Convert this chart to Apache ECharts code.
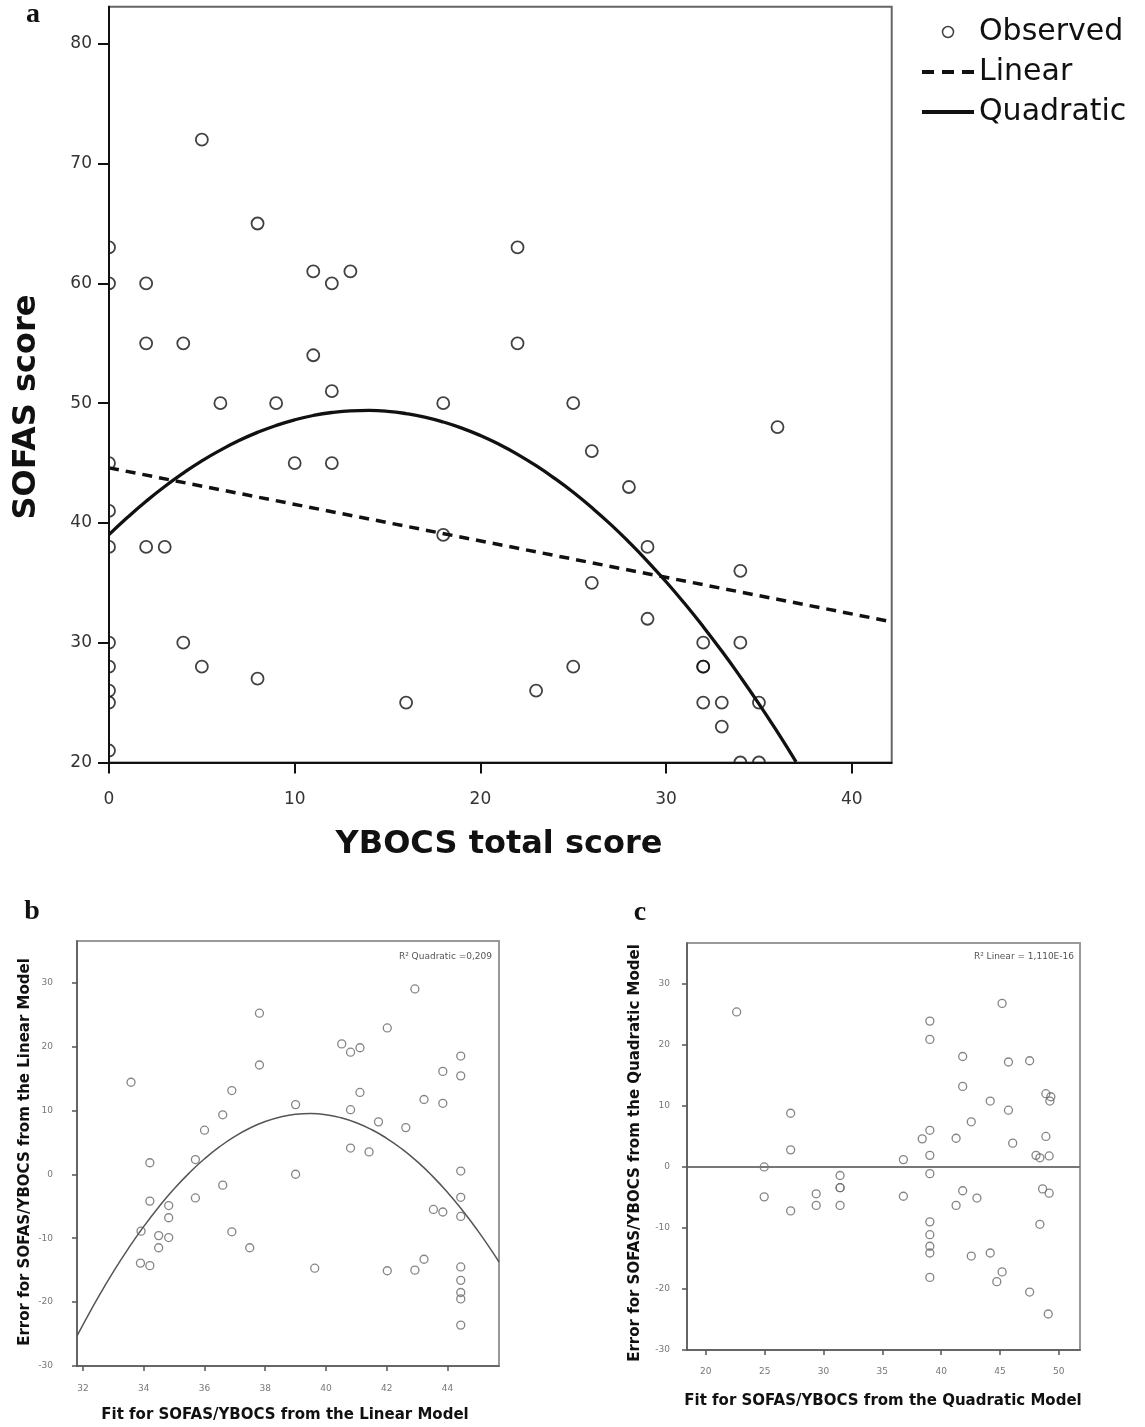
<!DOCTYPE html>
<html>
<head>
<meta charset="utf-8">
<title>SOFAS vs YBOCS</title>
<script src="https://cdn.jsdelivr.net/npm/echarts@6.0.0/dist/echarts.min.js"></script>
<style>
  html, body { margin: 0; padding: 0; background: #fff; }
  #chart { width: 1145px; height: 1427px; }
</style>
</head>
<body>
<div id="chart"></div>
<script>
// ---- panel a: SOFAS score against YBOCS total score ----
const xTicksA = [0, 10, 20, 30, 40];
const yTicksA = [20, 30, 40, 50, 60, 70, 80];

const observedA = [
  [0, 63], [0, 60], [0, 45], [0, 41], [0, 38], [0, 30], [0, 28], [0, 26], [0, 25], [0, 21],
  [2, 60], [2, 55], [2, 38], [3, 38], [4, 55], [4, 30], [5, 72], [5, 28], [6, 50], [8, 65],
  [8, 27], [9, 50], [10, 45], [11, 61], [11, 54], [12, 60], [12, 51], [12, 45], [13, 61],
  [16, 25], [18, 50], [18, 39], [22, 63], [22, 55], [23, 26], [25, 50], [25, 28], [26, 46],
  [26, 35], [28, 43], [29, 38], [29, 32], [32, 30], [32, 28], [32, 28], [32, 25], [33, 25],
  [33, 23], [34, 36], [34, 30], [34, 20], [35, 25], [35, 20], [36, 48]
];

// fitted lines
const linearA = [[0, 44.6], [42.15, 31.75]];
const quadraticA = [
  [0, 39.02], [1, 40.47], [2, 41.81], [3, 43.04], [4, 44.16], [5, 45.18], [6, 46.08],
  [7, 46.88], [8, 47.56], [9, 48.14], [10, 48.61], [11, 48.97], [12, 49.22], [13, 49.36],
  [14, 49.39], [15, 49.32], [16, 49.13], [17, 48.84], [18, 48.43], [19, 47.92], [20, 47.30],
  [21, 46.57], [22, 45.73], [23, 44.78], [24, 43.72], [25, 42.56], [26, 41.28], [27, 39.90],
  [28, 38.40], [29, 36.80], [30, 35.09], [31, 33.27], [32, 31.34], [33, 29.30], [34, 27.15],
  [35, 24.90], [36, 22.53], [37, 20.06]
];

// ---- panel b: residuals of the linear model ----
const xTicksB = [32, 34, 36, 38, 40, 42, 44];
const yTicksBC = [-30, -20, -10, 0, 10, 20, 30];

const residLinearB = [
  [33.58, 14.4], [33.91, -8.9], [33.89, -13.9], [34.2, -14.3], [34.2, 1.8], [34.2, -4.2],
  [34.49, -9.6], [34.49, -11.5], [34.82, -4.9], [34.82, -6.8], [34.82, -9.9], [35.7, 2.3],
  [35.7, -3.7], [36.0, 6.9], [36.6, 9.3], [36.6, -1.7], [36.9, 13.1], [36.9, -9.0],
  [37.49, -11.5], [37.81, 25.2], [37.81, 17.1], [39.0, 10.9], [39.0, 0], [39.63, -14.7],
  [40.52, 20.4], [40.81, 19.1], [41.12, 19.8], [40.81, 10.1], [41.12, 12.8], [40.81, 4.1],
  [41.42, 3.5], [41.73, 8.2], [42.02, 22.9], [42.02, -15.1], [42.63, 7.3], [42.93, 29.0],
  [42.93, -15.0], [43.23, 11.7], [43.23, -13.3], [43.54, -5.5], [43.85, 16.1], [43.85, 11.1],
  [43.85, -5.9], [44.44, 18.5], [44.44, 15.4], [44.44, 0.5], [44.44, -3.6], [44.44, -6.6],
  [44.44, -14.5], [44.44, -16.6], [44.44, -18.5], [44.44, -19.5], [44.44, -23.6]
];
const quadFitB = [
  [31.8, -25.30], [32.0, -23.51], [32.5, -19.23], [33.0, -15.24], [33.5, -11.55],
  [34.0, -8.16], [34.5, -5.07], [35.0, -2.28], [35.5, 0.22], [36.0, 2.42], [36.5, 4.32],
  [37.0, 5.93], [37.5, 7.24], [38.0, 8.25], [38.5, 8.96], [39.0, 9.38], [39.5, 9.50],
  [40.0, 9.32], [40.5, 8.84], [41.0, 8.07], [41.5, 7.00], [42.0, 5.63], [42.5, 3.97],
  [43.0, 2.01], [43.5, -0.25], [44.0, -2.81], [44.5, -5.67], [45.0, -8.82], [45.5, -12.27],
  [45.7, -13.73]
];

// ---- panel c: residuals of the quadratic model ----
const xTicksC = [20, 25, 30, 35, 40, 45, 50];

const residQuadC = [
  [22.62, 25.4], [24.96, 0], [24.96, -4.9], [27.21, 8.8], [27.21, 2.8], [27.21, -7.2],
  [29.38, -4.4], [29.38, -6.3], [31.41, -1.4], [31.41, -3.4], [31.41, -3.4], [31.41, -6.3],
  [36.79, 1.2], [36.79, -4.8], [38.39, 4.6], [39.04, 23.9], [39.04, 20.9], [39.04, 6.0],
  [39.04, 1.9], [39.04, -1.1], [39.04, -9.0], [39.04, -11.1], [39.04, -13.0], [39.04, -14.1],
  [39.04, -18.1], [41.27, 4.7], [41.27, -6.3], [41.83, 18.1], [41.83, 13.2], [41.83, -3.9],
  [42.56, 7.4], [42.56, -14.6], [43.04, -5.1], [44.17, 10.8], [44.17, -14.1], [44.73, -18.8],
  [45.18, 26.8], [45.18, -17.2], [45.72, 17.2], [45.72, 9.3], [46.08, 3.9], [47.52, 17.4],
  [47.52, -20.5], [48.06, 1.9], [48.39, 1.5], [48.39, -9.4], [48.62, -3.6], [48.9, 12.0],
  [48.9, 5.0], [49.1, -24.1], [49.24, 10.8], [49.32, 11.5], [49.18, 1.8], [49.18, -4.3]
];
const linFitC = [[18.4, 0], [51.8, 0]];

const chart = echarts.init(document.getElementById('chart'));

function axis(gridIndex, min, max, ticks, o) {
  return {
    type: 'value', gridIndex: gridIndex, min: min, max: max, z: 4,
    axisLine: { show: true, onZero: false, lineStyle: { color: o.lineColor, width: o.lineWidth } },
    axisTick: { show: true, customValues: ticks, length: o.tickLen, lineStyle: { color: o.lineColor, width: o.lineWidth } },
    axisLabel: {
      customValues: ticks, margin: o.margin, fontSize: o.fontSize,
      fontFamily: 'DejaVu Sans', color: o.labelColor
    },
    splitLine: { show: false }
  };
}

const bigAx = { lineColor: '#111', lineWidth: 2, tickLen: 11, fontSize: 17, labelColor: '#333' };
const smallAx = { lineColor: '#555', lineWidth: 1.5, tickLen: 5, fontSize: 9, labelColor: '#777' };

function txt(x, y, text, font, extra) {
  return Object.assign({
    type: 'text', x: x, y: y, z: 5,
    style: { text: text, font: font, fill: '#111', align: 'center', verticalAlign: 'middle' }
  }, extra || {});
}

const titleFont = 'bold 32px "DejaVu Sans"';
const smallTitle = 'bold 15px "DejaVu Sans"';
const panelFont = 'bold 28px "Liberation Serif"';

chart.setOption({
  animation: false,
  backgroundColor: '#fff',
  grid: [
    { left: 109, top: 6.7, width: 782.7, height: 755.8, show: true, borderColor: '#666', borderWidth: 2, outerBoundsMode: 'none' },
    { left: 77, top: 941, width: 422, height: 425, show: true, borderColor: '#999', borderWidth: 2, outerBoundsMode: 'none' },
    { left: 687, top: 943, width: 393, height: 407, show: true, borderColor: '#999', borderWidth: 2, outerBoundsMode: 'none' }
  ],
  xAxis: [
    axis(0, 0, 42.15, xTicksA, Object.assign({ margin: 29 }, bigAx)),
    axis(1, 31.8, 45.7, xTicksB, Object.assign({ margin: 18 }, smallAx)),
    axis(2, 18.4, 51.8, xTicksC, Object.assign({ margin: 17 }, smallAx))
  ],
  yAxis: [
    axis(0, 20, 83.1, yTicksA, Object.assign({ margin: 17 }, bigAx)),
    axis(1, -30, 36.5, yTicksBC, Object.assign({ margin: 24 }, smallAx)),
    axis(2, -30, 36.7, yTicksBC, Object.assign({ margin: 17 }, smallAx))
  ],
  legend: {
    left: 915, top: 12, orient: 'vertical',
    itemWidth: 52, itemHeight: 11, itemGap: 10,
    textStyle: { fontSize: 30, fontFamily: 'DejaVu Sans', color: '#111' },
    data: [
      { name: 'Observed', icon: 'circle', itemStyle: { color: 'rgba(0,0,0,0)', borderColor: '#111', borderWidth: 1.5 } },
      { name: 'Linear', itemStyle: { opacity: 0 }, lineStyle: { color: '#111', width: 4, type: [12, 8] } },
      { name: 'Quadratic', itemStyle: { opacity: 0 }, lineStyle: { color: '#111', width: 4 } }
    ]
  },
  series: [
    {
      name: 'Observed', type: 'scatter', xAxisIndex: 0, yAxisIndex: 0, data: observedA,
      symbol: 'circle', symbolSize: 12, clip: false,
      itemStyle: { color: 'rgba(0,0,0,0)', borderColor: '#111', borderWidth: 1.8 }
    },
    {
      name: 'Linear', type: 'line', xAxisIndex: 0, yAxisIndex: 0, data: linearA,
      symbol: 'none', itemStyle: { color: '#111' },
      lineStyle: { color: '#111', width: 3.5, type: [10, 7] }
    },
    {
      name: 'Quadratic', type: 'line', xAxisIndex: 0, yAxisIndex: 0, data: quadraticA,
      symbol: 'none', smooth: true, itemStyle: { color: '#111' },
      lineStyle: { color: '#111', width: 3.3 }
    },
    {
      name: 'residLinear', type: 'scatter', xAxisIndex: 1, yAxisIndex: 1, data: residLinearB,
      symbol: 'circle', symbolSize: 8, clip: false,
      itemStyle: { color: 'rgba(0,0,0,0)', borderColor: '#666', borderWidth: 1.3 }
    },
    {
      name: 'quadFitB', type: 'line', xAxisIndex: 1, yAxisIndex: 1, data: quadFitB,
      symbol: 'none', smooth: true, lineStyle: { color: '#555', width: 1.5 }
    },
    {
      name: 'residQuad', type: 'scatter', xAxisIndex: 2, yAxisIndex: 2, data: residQuadC,
      symbol: 'circle', symbolSize: 8, clip: false,
      itemStyle: { color: 'rgba(0,0,0,0)', borderColor: '#666', borderWidth: 1.3 }
    },
    {
      name: 'linFitC', type: 'line', xAxisIndex: 2, yAxisIndex: 2, data: linFitC,
      symbol: 'none', lineStyle: { color: '#777', width: 2 }
    }
  ],
  graphic: [
    // hide the halves of circles that sit on the axis lines of panel a
    { type: 'rect', z: 3, shape: { x: 96, y: 0, width: 12, height: 776 }, style: { fill: '#fff' } },
    { type: 'rect', z: 3, shape: { x: 96, y: 763.5, width: 800, height: 12 }, style: { fill: '#fff' } },
    txt(33, 15, 'a', panelFont),
    txt(32, 912, 'b', panelFont),
    txt(640, 913, 'c', panelFont),
    txt(27, 407, 'SOFAS score', titleFont, { rotation: Math.PI / 2 }),
    txt(499, 845, 'YBOCS total score', titleFont),
    txt(25, 1152, 'Error for SOFAS/YBOCS from the Linear Model', smallTitle, { rotation: Math.PI / 2 }),
    txt(285, 1415, 'Fit for SOFAS/YBOCS from the Linear Model', smallTitle),
    txt(635, 1153, 'Error for SOFAS/YBOCS from the Quadratic Model', smallTitle, { rotation: Math.PI / 2 }),
    txt(883, 1401, 'Fit for SOFAS/YBOCS from the Quadratic Model', smallTitle),
    {
      type: 'text', x: 492, y: 957, z: 5,
      style: { text: 'R² Quadratic =0,209', font: '9px "DejaVu Sans"', fill: '#555', align: 'right', verticalAlign: 'middle' }
    },
    {
      type: 'text', x: 1074, y: 957, z: 5,
      style: { text: 'R² Linear = 1,110E-16', font: '9px "DejaVu Sans"', fill: '#555', align: 'right', verticalAlign: 'middle' }
    }
  ]
});
</script>
</body>
</html>
